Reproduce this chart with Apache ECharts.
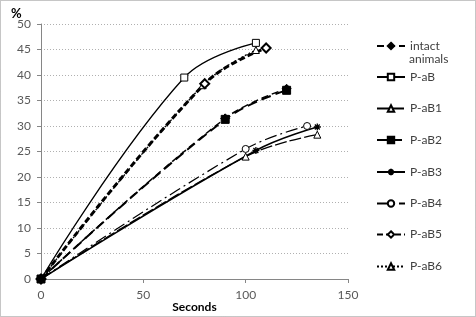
<!DOCTYPE html>
<html>
<head>
<meta charset="utf-8">
<script src="https://cdn.jsdelivr.net/npm/echarts@6/dist/echarts.min.js"></script>
<style>
  html, body { margin: 0; padding: 0; background: #fff; }
  #chart { width: 476px; height: 317px; }
</style>
</head>
<body>
<div id="chart"></div>
<script>
// values: [seconds, %]
var intactAnimals = [[0, 0], [90, 31.5], [120, 37.3]]
var pAB = [[0, 0], [70, 39.5], [105, 46.3]]
var pAB1 = [[0, 0], [100, 24], [135, 28.3]]
var pAB2 = [[0, 0], [90, 31.3], [120, 37]]
var pAB3 = [[0, 0], [105, 25.2], [135, 29.8]]
var pAB4 = [[0, 0], [100, 25.5], [130, 30]]
var pAB5 = [[0, 0], [80, 38.3], [110, 45.3]]
var pAB6 = [[0, 0], [79, 38], [105, 44.9]]

var seriesNames = ['intact animals', 'P-aB', 'P-aB1', 'P-aB2', 'P-aB3', 'P-aB4', 'P-aB5', 'P-aB6']
// vertical centre of each legend row
var legendRows = [46, 77, 108.5, 140, 172, 203.5, 234.5, 266.5]

var asterisk = 'path://M5,0L5,10M0,5L10,5M1.5,1.5L8.5,8.5M8.5,1.5L1.5,8.5'
var font = 'Lato, "Open Sans", sans-serif'

function makeSeries (name, data, symbol, size, lineStyle, itemStyle) {
  return {
    name: name,
    type: 'line',
    data: data,
    smooth: 0.4,
    symbol: symbol,
    symbolSize: size,
    color: '#000',
    lineStyle: Object.assign({ color: '#000', width: 1.5 }, lineStyle),
    itemStyle: Object.assign({ color: '#000', borderColor: '#000', borderWidth: 1 }, itemStyle || {}),
    animation: false
  }
}

var series = [
  makeSeries('P-aB', pAB, 'rect', 7, { type: 'solid', width: 1.3 }, { color: '#fff' }),
  makeSeries('P-aB1', pAB1, 'triangle', 7, { type: [12, 3], width: 1.3 }, { color: '#fff' }),
  makeSeries('P-aB3', pAB3, asterisk, 7, { type: 'solid', width: 1.5 }, { borderWidth: 1.3 }),
  makeSeries('P-aB4', pAB4, 'circle', 7, { type: [12, 4, 2, 4], width: 1.2 }, { color: '#fff' }),
  makeSeries('P-aB6', pAB6, 'triangle', 7, { type: [2, 2], width: 1.3 }, { color: '#fff' }),
  makeSeries('P-aB5', pAB5, 'diamond', 9, { type: [6, 3], width: 3 }, { color: '#fff', borderWidth: 2 }),
  makeSeries('intact animals', intactAnimals, 'diamond', 9, { type: [7, 4], width: 1.5 }),
  makeSeries('P-aB2', pAB2, 'rect', 8, { type: [10, 5], width: 2 })
]

var legends = seriesNames.map(function (name, i) {
  return {
    data: [name],
    left: 376,
    top: legendRows[i] - 7.5,
    padding: 0,
    orient: 'vertical',
    itemWidth: 28,
    itemHeight: 8,
    itemGap: 0,
    formatter: function (n) {
      return n === 'intact animals' ? 'intact' : n
    },
    textStyle: {
      fontFamily: font,
      fontSize: 12,
      color: '#404040',
      lineHeight: 15
    }
  }
})

var chart = echarts.init(document.getElementById('chart'))
chart.setOption({
  animation: false,
  backgroundColor: '#fff',
  grid: { left: 41, right: 128, top: 24, bottom: 38, outerBoundsMode: 'none', containLabel: false },
  legend: legends,
  xAxis: {
    type: 'value',
    min: 0,
    max: 150,
    interval: 50,
    name: 'Seconds',
    nameLocation: 'middle',
    nameGap: 22,
    nameMoveOverlap: false,
    nameTextStyle: { fontFamily: font, fontSize: 12, fontWeight: 'bold', color: '#000' },
    axisLine: { show: true, lineStyle: { color: '#868686' } },
    axisTick: { show: true, length: 4, lineStyle: { color: '#868686' } },
    axisLabel: { fontFamily: font, fontSize: 12, color: '#595959', margin: 10 },
    splitLine: { show: false }
  },
  yAxis: {
    type: 'value',
    min: 0,
    max: 50,
    interval: 5,
    axisLine: { show: true, lineStyle: { color: '#868686' } },
    axisTick: { show: true, length: 4, lineStyle: { color: '#868686' } },
    axisLabel: { fontFamily: font, fontSize: 12, color: '#595959', margin: 10 },
    splitLine: { show: true, lineStyle: { color: '#b0b0b0', type: [1, 2] } }
  },
  graphic: [
    {
      type: 'text',
      left: 11,
      top: 7,
      style: { text: '%', fontFamily: font, fontSize: 13, fontWeight: 'bold', fill: '#000' }
    },
    {
      // second line of the "intact animals" legend entry
      type: 'text',
      left: 409,
      top: legendRows[0] + 7,
      style: { text: 'animals', fontFamily: font, fontSize: 12, fill: '#404040' }
    },
    {
      type: 'rect',
      shape: { x: 0.5, y: 0.5, width: 475, height: 316 },
      style: { fill: 'none', stroke: '#8c8c8c', lineWidth: 1, lineDash: [1, 1] },
      silent: true
    }
  ],
  series: series
})
</script>
</body>
</html>
